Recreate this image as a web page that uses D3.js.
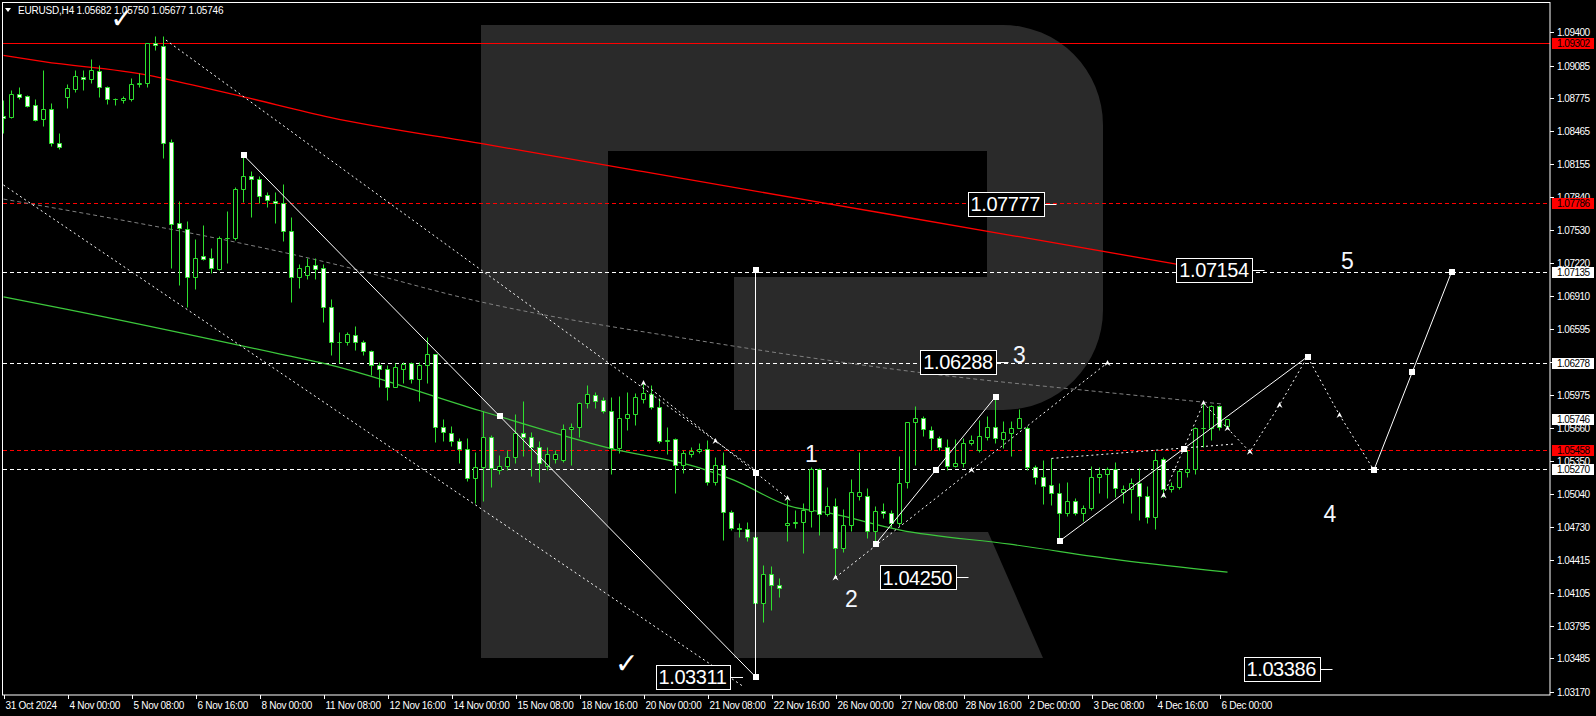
<!DOCTYPE html>
<html><head><meta charset="utf-8">
<script src="https://cdn.jsdelivr.net/npm/d3@7"></script>
<style>
html,body{margin:0;padding:0;background:#000;overflow:hidden;}
svg{display:block;}
text{font-family:"Liberation Sans",Arial,sans-serif;}
</style></head><body>
<svg id="chart" width="1596" height="716"></svg>
<script>
// ---------------- DATA ----------------
const symbolHeader = "EURUSD,H4";
const headerOHLC = ["1.05682", "1.05750", "1.05677", "1.05746"];

const opens = [1.08609,1.08602,1.08814,1.08798,1.08710,1.08578,1.08672,1.08351,1.08791,1.08867,
1.08980,1.08956,1.09037,1.08880,1.08767,1.08760,1.08769,1.08908,1.08918,1.09296,
1.09270,1.08360,1.07595,1.07538,1.07085,1.07283,1.07270,1.07163,1.07453,1.07453,
1.07916,1.08042,1.08013,1.07859,1.07808,1.07784,1.07519,1.07085,1.07103,1.07198,
1.07172,1.06801,1.06470,1.06476,1.06536,1.06470,1.06385,1.06253,1.06215,1.06051,
1.06221,1.06272,1.06121,1.06253,1.06357,1.05673,1.05616,1.05540,1.05459,1.05191,
1.05289,1.05578,1.05264,1.05304,1.05389,1.05610,1.05573,1.05478,1.05304,1.05365,
1.05358,1.05648,1.05667,1.05894,1.05969,1.05922,1.05824,1.05474,1.05752,1.05790,
1.05932,1.05982,1.05856,1.05540,1.05554,1.05311,1.05415,1.05440,1.05459,1.05153,
1.05314,1.04864,1.04713,1.04703,1.04628,1.04004,1.04281,1.04174,1.04741,1.04766,
1.04775,1.04879,1.05270,1.04848,1.04923,1.04524,1.04744,1.05021,1.05021,1.04690,
1.04873,1.04854,1.04760,1.05153,1.05714,1.05752,1.05639,1.05563,1.05484,1.05304,
1.05327,1.05516,1.05453,1.05578,1.05667,1.05560,1.05616,1.05663,1.05658,1.05289,
1.05200,1.05122,1.05043,1.04860,1.04973,1.04860,1.04902,1.05195,1.05223,1.05270,
1.05053,1.05081,1.05138,1.05018,1.04817,1.05365,1.05081,1.05106,1.05247,1.05270,
1.05658,1.05658,1.05868,1.05682];
const highs = [1.08760,1.08855,1.08886,1.08804,1.08769,1.09044,1.08732,1.08448,1.08911,1.09041,
1.09044,1.09145,1.09091,1.08895,1.08779,1.08798,1.08965,1.09012,1.09302,1.09365,
1.09365,1.08389,1.07806,1.07617,1.07444,1.07579,1.07359,1.07475,1.07711,1.07941,
1.08240,1.08089,1.08042,1.07888,1.07888,1.07966,1.07654,1.07210,1.07264,1.07264,
1.07210,1.06877,1.06565,1.06570,1.06624,1.06492,1.06398,1.06281,1.06256,1.06272,
1.06284,1.06287,1.06287,1.06518,1.06360,1.05743,1.05679,1.05563,1.05563,1.05436,
1.05821,1.05594,1.05405,1.05453,1.05793,1.05916,1.05625,1.05538,1.05484,1.05453,
1.05698,1.05705,1.05909,1.06067,1.06003,1.05956,1.05956,1.05963,1.06003,1.05988,
1.06098,1.06067,1.05947,1.05667,1.05563,1.05453,1.05484,1.05522,1.05547,1.05384,
1.05436,1.04886,1.04766,1.04772,1.04964,1.04366,1.04356,1.04240,1.04987,1.04886,
1.04955,1.05289,1.05280,1.05100,1.05002,1.04892,1.05176,1.05436,1.05091,1.04923,
1.04949,1.04886,1.05396,1.05720,1.05868,1.05774,1.05679,1.05585,1.05554,1.05554,
1.05569,1.05594,1.05736,1.05774,1.05932,1.05727,1.05729,1.05840,1.05679,1.05311,
1.05358,1.05374,1.05138,1.05147,1.04996,1.04933,1.05301,1.05295,1.05295,1.05342,
1.05122,1.05185,1.05285,1.05112,1.05436,1.05389,1.05153,1.05270,1.05453,1.05667,
1.05897,1.05878,1.05878,1.05750];
const lows = [1.08451,1.08593,1.08769,1.08697,1.08562,1.08514,1.08328,1.08297,1.08687,1.08838,
1.08855,1.08918,1.08791,1.08725,1.08716,1.08735,1.08751,1.08886,1.08886,1.09233,
1.08209,1.07170,1.07012,1.06807,1.06971,1.07248,1.07122,1.07154,1.07220,1.07440,
1.07799,1.07657,1.07784,1.07752,1.07601,1.07430,1.06854,1.06988,1.07066,1.07066,
1.06665,1.06350,1.06272,1.06445,1.06398,1.06350,1.06161,1.06051,1.05925,1.06045,
1.06083,1.06083,1.05916,1.06089,1.05531,1.05538,1.05490,1.05327,1.05162,1.04949,
1.04973,1.05100,1.05223,1.05264,1.05327,1.05396,1.05210,1.05147,1.05264,1.05327,
1.05336,1.05311,1.05578,1.05852,1.05852,1.05805,1.05223,1.05421,1.05642,1.05689,
1.05894,1.05837,1.05516,1.05412,1.05049,1.05238,1.05389,1.05421,1.05122,1.05122,
1.04602,1.04697,1.04633,1.04595,1.03311,1.03830,1.03941,1.04066,1.04595,1.04713,
1.04476,1.04722,1.04649,1.04829,1.04250,1.04491,1.04687,1.04980,1.04618,1.04564,
1.04807,1.04728,1.04734,1.05091,1.05311,1.05585,1.05453,1.05453,1.05264,1.05289,
1.05295,1.05500,1.05436,1.05547,1.05522,1.05469,1.05396,1.05658,1.05264,1.05131,
1.04942,1.04933,1.04593,1.04829,1.04838,1.04784,1.04886,1.05043,1.04996,1.05011,
1.04949,1.04854,1.04791,1.04766,1.04703,1.05011,1.05058,1.05081,1.05200,1.05226,
1.05484,1.05547,1.05642,1.05677];
const closes = [1.08587,1.08814,1.08791,1.08706,1.08571,1.08672,1.08351,1.08313,1.08871,1.08984,
1.08956,1.09044,1.08880,1.08767,1.08770,1.08776,1.08911,1.08924,1.09296,1.09280,
1.08356,1.07585,1.07548,1.07085,1.07264,1.07260,1.07170,1.07453,1.07455,1.07916,
1.08042,1.08011,1.07856,1.07815,1.07784,1.07519,1.07085,1.07171,1.07191,1.07160,
1.06801,1.06470,1.06476,1.06546,1.06470,1.06385,1.06253,1.06215,1.06051,1.06234,
1.06268,1.06121,1.06253,1.06357,1.05673,1.05625,1.05540,1.05459,1.05191,1.05289,
1.05578,1.05280,1.05304,1.05389,1.05610,1.05573,1.05478,1.05327,1.05412,1.05412,
1.05648,1.05667,1.05894,1.05979,1.05918,1.05824,1.05474,1.05752,1.05790,1.05951,
1.05988,1.05856,1.05540,1.05547,1.05311,1.05421,1.05440,1.05459,1.05153,1.05314,
1.04864,1.04713,1.04703,1.04628,1.04004,1.04281,1.04177,1.04146,1.04766,1.04772,
1.04886,1.05270,1.04848,1.04923,1.04524,1.04744,1.05058,1.05058,1.04690,1.04879,
1.04854,1.04760,1.05144,1.05714,1.05752,1.05648,1.05563,1.05484,1.05304,1.05327,
1.05516,1.05547,1.05585,1.05667,1.05563,1.05621,1.05658,1.05752,1.05289,1.05200,
1.05115,1.05043,1.04860,1.04973,1.04860,1.04902,1.05195,1.05223,1.05270,1.05091,
1.05081,1.05138,1.05018,1.04822,1.05358,1.05081,1.05112,1.05254,1.05270,1.05658,
1.05665,1.05868,1.05673,1.05746];

const yTickValues = [1.09400,1.09085,1.08775,1.08465,1.08155,1.07840,1.07530,1.07220,1.06910,1.06595,
1.06285,1.05975,1.05660,1.05350,1.05040,1.04730,1.04415,1.04105,1.03795,1.03485,1.03170];
const xTickBars = [0,8,16,24,32,40,48,56,64,72,80,88,96,104,112,120,128,136,144,152];
const xTickLabels = ["31 Oct 2024","4 Nov 00:00","5 Nov 08:00","6 Nov 16:00","8 Nov 00:00","11 Nov 08:00",
"12 Nov 16:00","14 Nov 00:00","15 Nov 08:00","18 Nov 16:00","20 Nov 00:00","21 Nov 08:00","22 Nov 16:00",
"26 Nov 00:00","27 Nov 08:00","28 Nov 16:00","2 Dec 00:00","3 Dec 08:00","4 Dec 16:00","6 Dec 00:00"];

// moving averages: [bar, price]
const redMA = [[0,1.09182],[5,1.09122],[18,1.08996],[20.5,1.08956],[30,1.08791],[40.8,1.08597],[60,1.08345],[80,1.08083],[101,1.07808],[125,1.07494],[146.6,1.07210]];
const greenMA = [[0,1.06901],[7.8,1.06785],[34.6,1.06360],[40.4,1.06265],[59.6,1.05824],[75.6,1.05474],[87.1,1.05282],[91.3,1.05169],[98.3,1.04923],[103.3,1.04857],[112.1,1.04697],[125.8,1.04564],[139.6,1.04413],[153,1.04300]];
const grayMA = [[0,1.07824],[40.8,1.07220],[59.6,1.06854],[87.1,1.06485],[124.6,1.06098],[130.8,1.06051],[152.5,1.05887]];

// horizontal levels
const solidRedLevels = [1.09302];
const dashedRedLevels = [1.07786, 1.05458];
const dashedWhiteLevels = [1.07135, 1.06278, 1.05270];
const axisMarks = [
  {p:1.09302, t:"1.09302", bg:"#ff0000"}, {p:1.07786, t:"1.07786", bg:"#ff0000"},
  {p:1.07135, t:"1.07135", bg:"#ffffff"}, {p:1.06278, t:"1.06278", bg:"#ffffff"},
  {p:1.05746, t:"1.05746", bg:"#ffffff"}, {p:1.05458, t:"1.05458", bg:"#ff0000"},
  {p:1.05270, t:"1.05270", bg:"#ffffff"}];

// wave annotations [bar, price]
const solidLines = [
  [[30,1.08240],[94,1.03311]],
  [[94,1.07154],[94,1.03311]],
  [[109,1.04564],[124,1.05956]],
  [[132,1.04593],[163,1.06335]],
  [[171.3,1.05264],[181,1.07135]]
];
const dottedLines = [
  [[0,1.07957],[92.6,1.03213]],
  [[20.3,1.09327],[94,1.05264]],
  [[80,1.06086],[98,1.04999]],
  [[104,1.04250],[137.9,1.06272]],
  [[145,1.05027],[150,1.05897],[153,1.05658],[155.8,1.05436],[159.5,1.05878],[163,1.06335],[167,1.05784],[171.3,1.05264]],
  [[131,1.05374],[153.7,1.05509]]
];
const squareMarks = [[30,1.08240],[62,1.05774],[94,1.03311],[94,1.05235],[94,1.07154],[109,1.04564],[116.5,1.05264],
  [124,1.05956],[132,1.04593],[147.5,1.05459],[163,1.06335],[171.3,1.05264],[176,1.06187],[181,1.07135]];
const arrowMarks = [[80,1.06086],[89,1.05538],[98,1.04999],[104,1.04250],[121,1.05264],[138,1.06275],[145,1.05027],
  [150,1.05897],[153,1.05658],[155.8,1.05436],[159.5,1.05878],[167,1.05784]];
const boxLabels = [
  {t:"1.07777", p:1.07777, bar:120.5},
  {t:"1.07154", p:1.07154, bar:146.6},
  {t:"1.06288", p:1.06288, bar:114.6},
  {t:"1.04250", p:1.04250, bar:109.5},
  {t:"1.03311", p:1.03311, bar:81.5},
  {t:"1.03386", p:1.03386, bar:155}
];
const waveLabels = [
  {t:"1", bar:101, p:1.05421}, {t:"2", bar:106, p:1.04051}, {t:"3", bar:127, p:1.06350},
  {t:"4", bar:165.8, p:1.04848}, {t:"5", bar:168, p:1.07241}
];
const checkMarks = [[14.8,1.09532],[77.9,1.03442]];

// ---------------- DRAW ----------------
const W = 1596, H = 716;
const plotL = 3, plotR = 1550, plotT = 3, plotB = 695;
const svg = d3.select("#chart");
const x = d3.scaleLinear().domain([0, 1]).range([3.5, 11.5]);
const y = d3.scaleLinear().domain([1.03170, 1.09400]).range([691.7, 32.3]);
const py = v => Math.round(y(v)) + 0.5;

svg.append("rect").attr("width", W).attr("height", H).attr("fill", "#000");
svg.append("defs").append("clipPath").attr("id", "plotclip")
  .append("rect").attr("x", plotL).attr("y", plotT).attr("width", plotR - plotL).attr("height", plotB - plotT);
const plot = svg.append("g").attr("clip-path", "url(#plotclip)");

// watermark logo
const wm = plot.append("g").attr("fill", "#2a2a2a");
wm.append("path").attr("d", "M481,25 H1003 A100,100 0 0 1 1103,125 V310 A100,100 0 0 1 1003,410 H734 V277 H987 V151 H608 V658 H481 Z");
wm.append("path").attr("d", "M734,532 H988 L1043,658 H734 Z");

// horizontal levels
const hline = (p, color, dash) => plot.append("line").attr("x1", plotL).attr("x2", plotR)
  .attr("y1", py(p)).attr("y2", py(p)).attr("stroke", color).attr("stroke-width", 1)
  .attr("stroke-dasharray", dash || null);
dashedWhiteLevels.forEach(p => hline(p, "#ffffff", "4,3"));
dashedRedLevels.forEach(p => hline(p, "#ff0000", "4,3"));
solidRedLevels.forEach(p => hline(p, "#ff0000", null));

// moving averages
const maLine = d3.line().x(d => x(d[0])).y(d => y(d[1])).curve(d3.curveMonotoneX);
plot.append("path").attr("d", maLine(grayMA)).attr("fill", "none").attr("stroke", "#808080").attr("stroke-dasharray", "4,3");
plot.append("path").attr("d", maLine(redMA)).attr("fill", "none").attr("stroke", "#ff0000").attr("stroke-width", 1.3);
plot.append("path").attr("d", maLine(greenMA)).attr("fill", "none").attr("stroke", "#3cc83c").attr("stroke-width", 1.2);

// candles
const green = "#2ee02e";
const candles = d3.range(opens.length).map(i => ({i, o: opens[i], h: highs[i], l: lows[i], c: closes[i]}));
const cg = plot.append("g");
cg.selectAll("line.wick").data(candles).join("line")
  .attr("x1", d => x(d.i)).attr("x2", d => x(d.i))
  .attr("y1", d => py(d.h)).attr("y2", d => py(d.l))
  .attr("stroke", green).attr("stroke-width", 1);
cg.selectAll("path.body").data(candles).join("path")
  .attr("d", d => {
    const t = py(Math.max(d.o, d.c)), b = py(Math.min(d.o, d.c));
    const cx = x(d.i);
    return `M${cx - 2},${t} H${cx + 2} V${b} H${cx - 2} Z`;
  })
  .attr("fill", d => d.c >= d.o ? "#000" : "#fff")
  .attr("stroke", green).attr("stroke-width", 1);

// wave annotations
const ln = d3.line().x(d => x(d[0])).y(d => y(d[1]));
const ag = plot.append("g");
dottedLines.forEach(l => ag.append("path").attr("d", ln(l)).attr("fill", "none")
  .attr("stroke", "#fff").attr("stroke-width", 1).attr("stroke-dasharray", "2,3"));
solidLines.forEach(l => ag.append("path").attr("d", ln(l)).attr("fill", "none")
  .attr("stroke", "#fff").attr("stroke-width", 1));
ag.selectAll("rect.sq").data(squareMarks).join("rect")
  .attr("x", d => Math.round(x(d[0])) - 3).attr("y", d => Math.round(y(d[1])) - 3)
  .attr("width", 6).attr("height", 6).attr("fill", "#fff");
ag.selectAll("path.arw").data(arrowMarks).join("path")
  .attr("transform", d => `translate(${x(d[0])},${y(d[1])})`)
  .attr("d", "M-3,3 L0,-3 L3,3 L0,1 Z").attr("fill", "#fff");

// boxed price labels
boxLabels.forEach(b => {
  const bx = x(b.bar), by = y(b.p);
  const g = ag.append("g");
  const t = g.append("text").attr("x", bx + 3).attr("y", by).attr("dy", "0.36em")
    .attr("fill", "#fff").attr("font-size", 20).attr("letter-spacing", -0.4).text(b.t);
  const w = t.node().getComputedTextLength() + 6;
  g.insert("rect", "text").attr("x", Math.round(bx) + 0.5).attr("y", Math.round(by - 12) + 0.5)
    .attr("width", Math.round(w)).attr("height", 24).attr("fill", "#000").attr("stroke", "#fff");
  g.append("line").attr("x1", Math.round(bx) + w + 1).attr("x2", Math.round(bx) + w + 13)
    .attr("y1", Math.round(by) + 0.5).attr("y2", Math.round(by) + 0.5).attr("stroke", "#fff");
});
waveLabels.forEach(w => ag.append("text").attr("x", x(w.bar)).attr("y", y(w.p)).attr("dy", "0.36em")
  .attr("text-anchor", "middle").attr("fill", "#f4f8ff").attr("font-size", 23).text(w.t));
checkMarks.forEach(c => ag.append("text").attr("x", x(c[0])).attr("y", y(c[1])).attr("dy", "0.36em")
  .attr("text-anchor", "middle").attr("fill", "#fff").attr("font-size", 28).attr("font-weight", "bold")
  .style("font-family", "DejaVu Sans").text("\u2713"));

// frame
svg.append("rect").attr("x", 2.5).attr("y", 2.5).attr("width", plotR - 2.5).attr("height", plotB - 2.5)
  .attr("fill", "none").attr("stroke", "#fff");

// y axis
const ya = svg.append("g");
yTickValues.forEach(v => {
  ya.append("line").attr("x1", plotR).attr("x2", plotR + 4).attr("y1", py(v)).attr("y2", py(v)).attr("stroke", "#fff");
  ya.append("text").attr("x", 1557).attr("y", py(v)).attr("dy", "0.35em").attr("fill", "#fff")
    .attr("font-size", 10).attr("letter-spacing", -0.5).text(v.toFixed(5));
});
axisMarks.forEach(m => {
  const yy = Math.round(y(m.p));
  ya.append("rect").attr("x", 1552).attr("y", yy - 5).attr("width", 42).attr("height", 11).attr("fill", m.bg);
  ya.append("text").attr("x", 1557).attr("y", yy + 0.5).attr("dy", "0.35em").attr("fill", "#000")
    .attr("font-size", 10).attr("letter-spacing", -0.5).text(m.t);
});

// x axis
const xa = svg.append("g");
xTickBars.forEach((b, k) => {
  const xx = Math.round(x(b)) + 0.5;
  xa.append("line").attr("x1", xx).attr("x2", xx).attr("y1", plotB).attr("y2", plotB + 4).attr("stroke", "#fff");
  xa.append("text").attr("x", xx + 1).attr("y", 709).attr("fill", "#fff").attr("font-size", 10)
    .attr("letter-spacing", -0.3).text(xTickLabels[k]);
});

// header
svg.append("path").attr("d", "M5,8 H11 L8,12 Z").attr("fill", "#fff");
svg.append("text").attr("x", 18).attr("y", 14).attr("fill", "#fff").attr("font-size", 10)
  .attr("letter-spacing", -0.2).text(symbolHeader + "  " + headerOHLC.join(" "));
</script>
</body></html>
